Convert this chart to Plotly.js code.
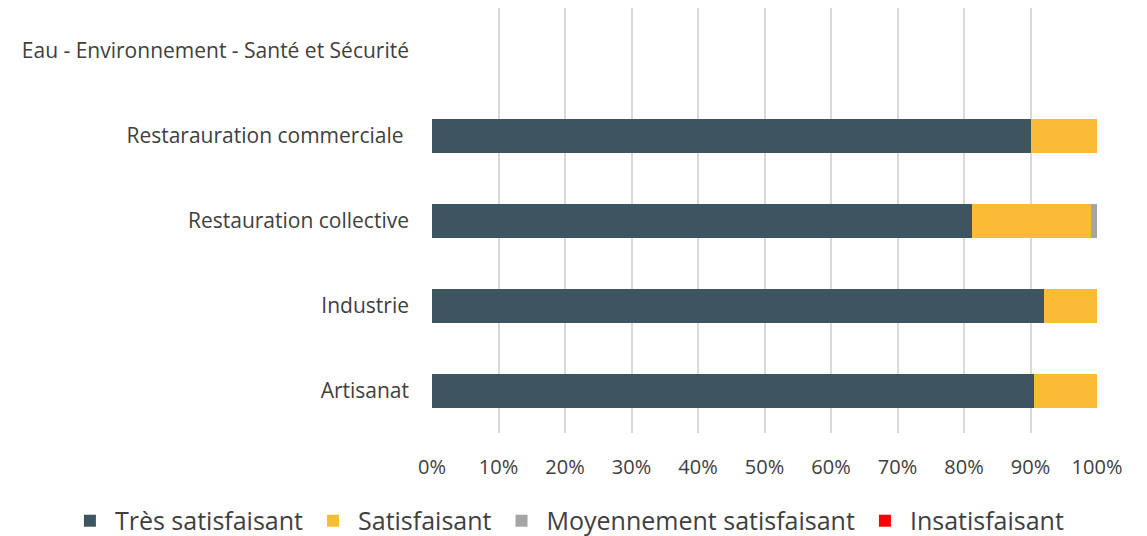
<!DOCTYPE html>
<html><head><meta charset="utf-8">
<script src="https://cdn.plot.ly/plotly-3.0.1.min.js"></script>
<style>html,body{margin:0;padding:0;background:#fff}#chart{width:1147px;height:536px}</style>
</head><body><div id="chart"></div>
<script>
const categories = ["Artisanat", "Industrie", "Restauration collective", "Restarauration commerciale ", "Eau - Environnement - Santé et Sécurité"];
const tresSatisfaisant = [0.905, 0.92, 0.812, 0.90, 0];
const satisfaisant = [0.095, 0.08, 0.179, 0.10, 0];
const moyennement = [0, 0, 0.009, 0, 0];
const insatisfaisant = [0, 0, 0, 0, 0];
const seriesNames = ["Très satisfaisant", "Satisfaisant", "Moyennement satisfaisant", "Insatisfaisant"];
const colors = ["#3D5561", "#FBBC35", "#A5A5A5", "#FF0000"];
const xTickVals = [0,0.1,0.2,0.3,0.4,0.5,0.6,0.7,0.8,0.9,1];
const xTickText = ["0%","10%","20%","30%","40%","50%","60%","70%","80%","90%","100%"];

const data = [tresSatisfaisant, satisfaisant, moyennement, insatisfaisant].map((v,i)=>({
  type:"bar", orientation:"h", x:v, y:categories, name:seriesNames[i],
  marker:{color:colors[i]}, hoverinfo:"x+name"
}));
const font = {family:"Open Sans, sans-serif", color:"#404040", size:20};
const layout = {
  width:1147, height:536, barmode:"stack", bargap:0.6,
  margin:{l:432, r:50, t:8, b:103, autoexpand:false},
  paper_bgcolor:"#fff", plot_bgcolor:"#fff", font:font,
  xaxis:{range:[0,1], tickvals:xTickVals, ticktext:xTickText, showgrid:true, gridcolor:"#D9D9D9", gridwidth:2,
    zeroline:false, showline:false, ticks:"", ticklabelstandoff:20, tickfont:{size:20}, fixedrange:true, automargin:false},
  yaxis:{type:"category", categoryarray:categories, showgrid:false, zeroline:false, showline:false, ticks:"",
    ticklabelstandoff:22, tickfont:{size:21}, fixedrange:true, automargin:false},
  legend:{orientation:"h", xref:"paper", x:-0.552, xanchor:"left", yref:"paper", y:-0.207, yanchor:"middle",
    font:{size:25, color:"#404040"}, traceorder:"normal", itemwidth:40},
  showlegend:true
};
Plotly.newPlot("chart", data, layout, {displayModeBar:false, staticPlot:true});
</script></body></html>
